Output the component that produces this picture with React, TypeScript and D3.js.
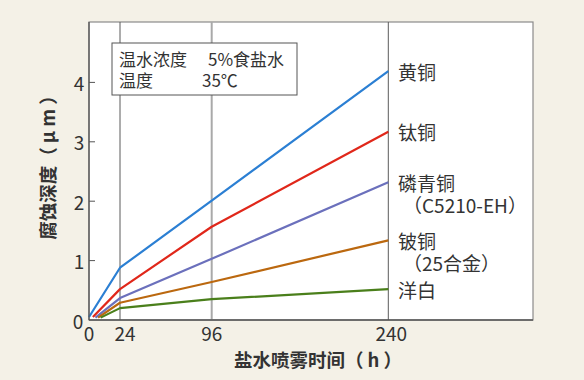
import React from "react";
import * as d3 from "d3";

const hourTicks = [0, 24, 96, 240];
const valueTicks = [0, 1, 2, 3, 4];
const seriesNames = ["黄铜", "钛铜", "磷青铜", "铍铜", "洋白"];
const seriesSubLabels = ["", "", "（C5210-EH）", "（25合金）", ""];
const seriesColors = ["#2b7fd3", "#e0271a", "#6b70bc", "#bb680f", "#4a7f1b"];
const startHours = [0, 3, 5, 7, 9];
const startValues = [0.05, 0.05, 0.04, 0.04, 0.04];
const measuredHours = [24, 96, 240];
const brass = [0.88, 2.01, 4.19];
const titaniumCopper = [0.52, 1.57, 3.17];
const phosphorBronze = [0.37, 1.03, 2.32];
const berylliumCopper = [0.29, 0.64, 1.34];
const nickelSilver = [0.2, 0.35, 0.52];
const seriesValues = [brass, titaniumCopper, phosphorBronze, berylliumCopper, nickelSilver];
const noteLines = [
  ["温水浓度", "5%食盐水"],
  ["温度", "35℃"],
];

const W = 584;
const H = 380;
const plot = { left: 89, top: 22, right: 533, bottom: 320 };
const FONT = "'Noto Sans CJK SC', 'Noto Sans', sans-serif";
const TEXT = "#333";

export default function App() {
  const x = d3
    .scaleLinear()
    .domain([0, 24, 96, 240])
    .range([plot.left, 120, 211.7, 388.3]);
  const y = d3.scaleLinear().domain([0, 5]).range([plot.bottom, plot.bottom - 5 * 59.4]);

  const line = d3
    .line<[number, number]>()
    .x((d) => x(d[0]))
    .y((d) => y(d[1]));

  return (
    <svg
      width={W}
      height={H}
      style={{ position: "absolute", left: 0, top: 0, display: "block" }}
      fontFamily={FONT}
    >
      <rect x={0} y={0} width={W} height={H} fill="#f4f1e7" />
      <rect
        x={plot.left}
        y={plot.top}
        width={plot.right - plot.left}
        height={plot.bottom - plot.top}
        fill="#fff"
        stroke="#8a8a8a"
        strokeWidth={1.2}
      />
      {/* vertical grid lines */}
      {hourTicks
        .filter((h) => h > 0)
        .map((h) => (
          <line
            key={h}
            x1={x(h)}
            x2={x(h)}
            y1={plot.top}
            y2={plot.bottom}
            stroke={h === 96 ? "#a9a9a9" : "#5a5a5a"}
            strokeWidth={h === 96 ? 2 : 1}
          />
        ))}
      {/* y ticks */}
      {valueTicks
        .filter((v) => v > 0)
        .map((v) => (
          <line key={v} x1={plot.left} x2={plot.left + 6} y1={y(v)} y2={y(v)} stroke="#555" strokeWidth={1} />
        ))}
      {/* note box */}
      <rect x={112} y={43} width={185} height={52} fill="#fff" stroke="#555" strokeWidth={1} />
      {noteLines.map((ln, i) => (
        <g key={i} fontSize={17} fill={TEXT}>
          <text x={119} y={66 + i * 21}>{ln[0]}</text>
          <text x={i === 0 ? 208 : 202} y={66 + i * 21}>{ln[1]}</text>
        </g>
      ))}
      {/* series */}
      {seriesValues.map((vals, i) => {
        const pts: [number, number][] = [[startHours[i], startValues[i]]];
        measuredHours.forEach((h, j) => pts.push([h, vals[j]]));
        return (
          <path
            key={i}
            d={line(pts) || ""}
            fill="none"
            stroke={seriesColors[i]}
            strokeWidth={2.2}
            strokeLinejoin="round"
          />
        );
      })}
      {/* axes */}
      <line x1={plot.left} x2={plot.left} y1={plot.top} y2={plot.bottom} stroke="#555" strokeWidth={1.3} />
      <line x1={plot.left} x2={plot.right} y1={plot.bottom} y2={plot.bottom} stroke="#555" strokeWidth={1.3} />
      {/* series labels */}
      {seriesNames.map((n, i) => {
        const last = seriesValues[i][seriesValues[i].length - 1];
        const cy = y(last);
        return (
          <g key={n} fontSize={19} fill={TEXT}>
            <text x={398} y={cy} dominantBaseline="central">
              {n}
            </text>
            {seriesSubLabels[i] && (
              <text x={403} y={cy + 22} dominantBaseline="central">
                {seriesSubLabels[i]}
              </text>
            )}
          </g>
        );
      })}
      {/* y tick labels */}
      {valueTicks.map((v) => (
        <text
          key={v}
          x={v === 0 ? 78 : 79}
          y={y(v) + (v === 0 ? 0 : 0)}
          fontSize={19}
          fill={TEXT}
          textAnchor="middle"
          dominantBaseline="central"
        >
          {v}
        </text>
      ))}
      {/* x tick labels */}
      {hourTicks.map((h) => (
        <text
          key={h}
          x={x(h) + (h === 24 ? 5 : h === 240 ? 3 : 0)}
          y={332}
          fontSize={19}
          fill={TEXT}
          textAnchor="middle"
          dominantBaseline="central"
        >
          {h}
        </text>
      ))}
      {/* axis titles */}
      <text
        x={318}
        y={359}
        fontSize={18.5}
        fontWeight={700}
        fill={TEXT}
        textAnchor="middle"
        dominantBaseline="central"
      >
        盐水喷雾时间（ h ）
      </text>
      <text
        transform={`translate(47,163) rotate(-90)`}
        fontSize={18.5}
        fontWeight={700}
        fill={TEXT}
        textAnchor="middle"
        dominantBaseline="central"
      >
        腐蚀深度（ μ m ）
      </text>
    </svg>
  );
}
